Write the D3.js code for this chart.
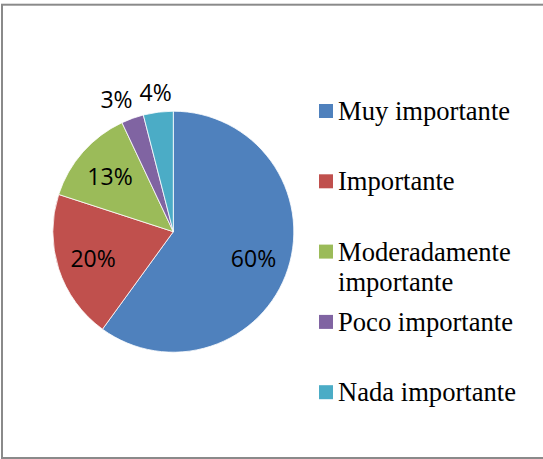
<!DOCTYPE html>
<html>
<head>
<meta charset="utf-8">
<script src="https://cdn.jsdelivr.net/npm/d3@7"></script>
<style>
  html, body { margin: 0; padding: 0; background: #fff; }
  svg { display: block; }
</style>
</head>
<body>
<div id="chart"></div>
<script>
// Data
const categories = ["Muy importante", "Importante", "Moderadamente importante", "Poco importante", "Nada importante"];
const values = [60, 20, 13, 3, 4];
const labels = ["60%", "20%", "13%", "3%", "4%"];
const colors = ["#4F81BD", "#C0504D", "#9BBB59", "#8064A2", "#4BACC6"];

const W = 543, H = 459;
const CX = 173.3, CY = 231.7, R = 120.5;

const svg = d3.select("#chart").append("svg")
  .attr("width", W).attr("height", H);

// Frame
svg.append("rect")
  .attr("x", 2).attr("y", 4.7)
  .attr("width", 600).attr("height", 453.3)
  .attr("fill", "#fff")
  .attr("stroke", "#8a8a8a").attr("stroke-width", 2);

const data = categories.map((c, i) => ({ name: c, value: values[i], label: labels[i], color: colors[i] }));

const pie = d3.pie().value(d => d.value).sort(null);
const arcs = pie(data);
const arc = d3.arc().innerRadius(0).outerRadius(R);
const inLabel = d3.arc().innerRadius(R * 0.7).outerRadius(R * 0.7);
const outLabel = d3.arc().innerRadius(R * 1.17).outerRadius(R * 1.17);

const g = svg.append("g").attr("transform", `translate(${CX},${CY})`);

// Slices
g.selectAll("path.slice")
  .data(arcs)
  .join("path")
  .attr("class", "slice")
  .attr("d", arc)
  .attr("fill", d => d.data.color)
  .attr("stroke", "#fff")
  .attr("stroke-width", 0.8)
  .attr("stroke-linejoin", "round");

// Data labels: big slices inside, small ones outside
const small = d => d.data.value < 5;
const labelSel = g.selectAll("text.pct")
  .data(arcs)
  .join("text")
  .attr("class", "pct")
  .attr("font-family", "'Open Sans', sans-serif")
  .attr("font-size", 23)
  .attr("fill", "#000")
  .attr("text-anchor", "middle")
  .attr("dominant-baseline", "central")
  .attr("transform", d => `translate(${(small(d) ? outLabel : inLabel).centroid(d)})`)
  .text(d => d.data.label);

// Push outside labels apart if they overlap (walk right to left)
const outs = labelSel.filter(small).nodes().map(n => {
  const c = outLabel.centroid(d3.select(n).datum());
  return { node: n, x: c[0], y: c[1], w: n.getComputedTextLength() };
});
for (let i = outs.length - 2; i >= 0; i--) {
  const a = outs[i], b = outs[i + 1];
  const limit = (b.x - b.w / 2) - 7;
  if (a.x + a.w / 2 > limit) a.x = limit - a.w / 2;
  d3.select(a.node).attr("transform", `translate(${a.x},${a.y})`);
}

// Legend
const LX = 319, LY = 104, STEP = 70.3, SQ = 14, TX = 338, MAXW = 196;
const legend = svg.append("g");

data.forEach((d, i) => {
  const y0 = LY + i * STEP;
  legend.append("rect")
    .attr("x", LX).attr("y", y0)
    .attr("width", SQ).attr("height", SQ)
    .attr("fill", d.color);

  const t = legend.append("text")
    .attr("x", TX).attr("y", y0 + 16)
    .attr("font-family", "'Liberation Serif', 'Times New Roman', serif")
    .attr("font-size", 26.6)
    .attr("fill", "#000");

  // simple word wrap
  const words = d.name.split(" ");
  let line = [];
  let ts = t.append("tspan").attr("x", TX);
  words.forEach(w => {
    line.push(w);
    ts.text(line.join(" "));
    if (ts.node().getComputedTextLength() > MAXW && line.length > 1) {
      line.pop();
      ts.text(line.join(" "));
      line = [w];
      ts = t.append("tspan").attr("x", TX).attr("dy", 30).text(w);
    }
  });
});
</script>
</body>
</html>
